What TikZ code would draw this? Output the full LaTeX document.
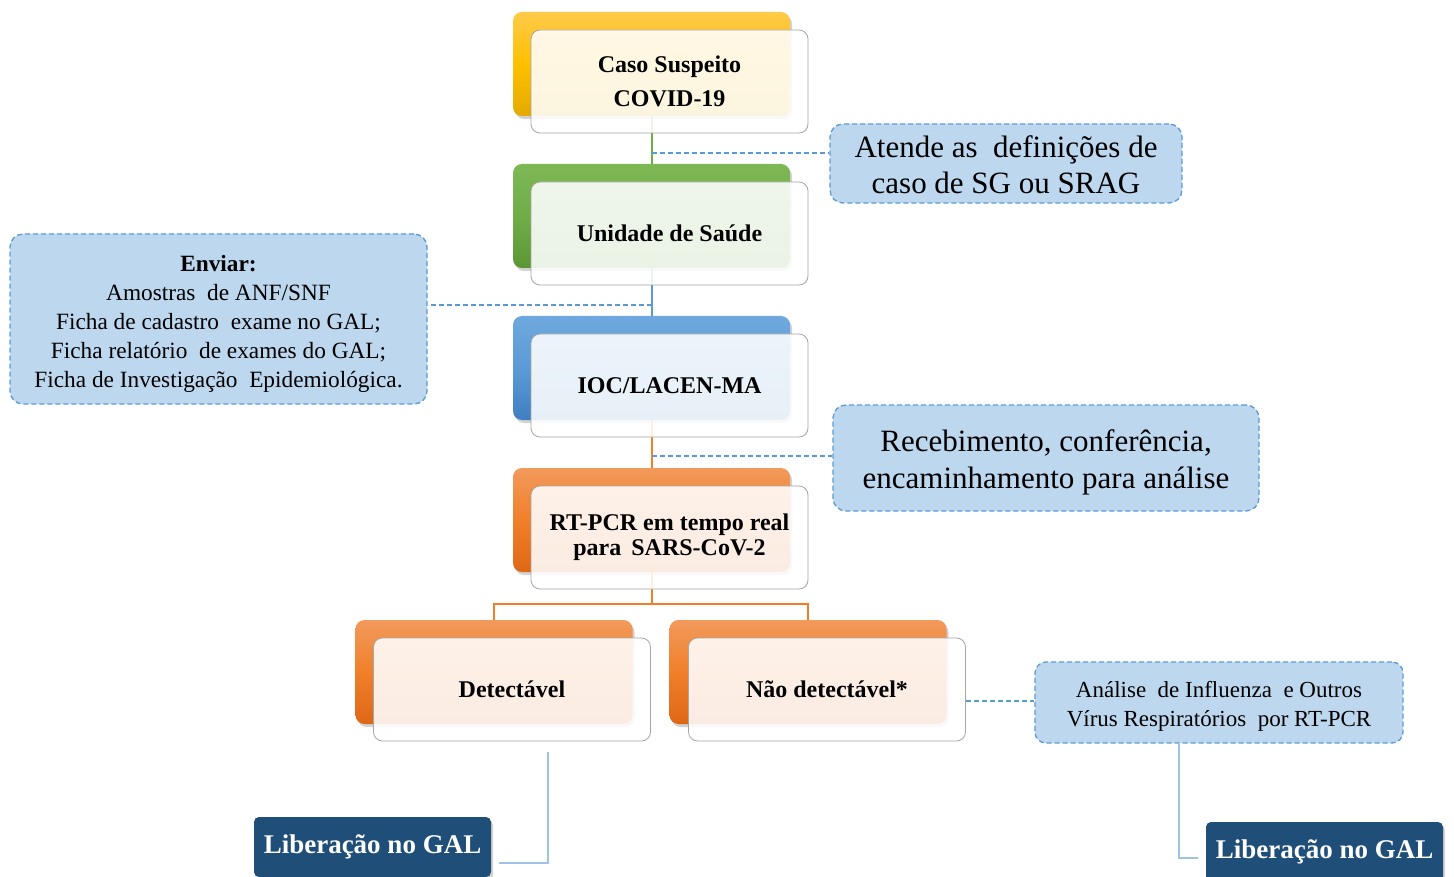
\documentclass[tikz,border=0pt]{standalone}
\usepackage{fontspec}
\setmainfont{Liberation Serif}
\usetikzlibrary{shadows}
\definecolor{yA}{HTML}{FFCA4A}\definecolor{yB}{HTML}{FFC000}\definecolor{yC}{HTML}{E3AA00}
\definecolor{gA}{HTML}{7DB855}\definecolor{gB}{HTML}{70AD47}\definecolor{gC}{HTML}{5C9634}
\definecolor{bA}{HTML}{6FA8DE}\definecolor{bB}{HTML}{5B9BD5}\definecolor{bC}{HTML}{3F7FC2}
\definecolor{oA}{HTML}{F29A5C}\definecolor{oB}{HTML}{F07F2A}\definecolor{oC}{HTML}{DE6716}
\definecolor{callfill}{HTML}{BDD7EE}\definecolor{calldraw}{HTML}{5B9BD5}
\definecolor{darkblue}{HTML}{1F4E79}\definecolor{linkblue}{HTML}{9DC3E6}
\definecolor{frame}{HTML}{A6A6A6}
\newcommand\shiftdown[2]{\raisebox{-#1}[\height][\depth]{\begin{tabular}{@{}c@{}}#2\end{tabular}}}
\tikzset{
  backbox/.style={rounded corners=9pt, minimum width=277pt, minimum height=104pt, inner sep=0pt,
    drop shadow={opacity=0.35, shadow xshift=2pt, shadow yshift=-3pt}},
  frontbox/.style={rounded corners=9pt, minimum width=277pt, minimum height=103pt, inner sep=0pt,
    draw=frame, line width=0.8pt, fill=white, fill opacity=0.88, text opacity=1, align=center,
    font=\fontsize{24}{34}\selectfont\bfseries},
  callout/.style={rounded corners=13pt, fill=callfill, draw=calldraw, dash pattern=on 5pt off 3pt, line width=1.3pt,
    inner sep=0pt},
  dashlink/.style={draw=calldraw, dash pattern=on 5pt off 3pt, line width=1.3pt},
  solidlink/.style={draw=linkblue, line width=1.3pt},
  treelink/.style={line width=2pt},
  gallbox/.style={rounded corners=5pt, fill=darkblue, text=white, minimum width=237pt, minimum height=60pt,
    inner sep=0pt, font=\fontsize{27}{30}\selectfont\bfseries,
    drop shadow={opacity=0.35, shadow xshift=2pt, shadow yshift=-3pt}},
}
\begin{document}
\begin{tikzpicture}[x=1pt,y=-1pt]
\clip (0,0) rectangle (1454,877);
\fill[white] (0,0) rectangle (1454,877);
\node[backbox, top color=yA, bottom color=yC, middle color=yB] (c1b) at (651.5,64) {};
\node[backbox, top color=gA, bottom color=gC, middle color=gB] (c2b) at (651.5,216) {};
\node[backbox, top color=bA, bottom color=bC, middle color=bB] (c3b) at (651.5,368) {};
\node[backbox, top color=oA, bottom color=oC, middle color=oB] (c4b) at (651.5,520) {};
\node[backbox, top color=oA, bottom color=oC, middle color=oB] (c5b) at (494,672) {};
\node[backbox, top color=oA, bottom color=oC, middle color=oB] (c6b) at (808,672) {};
\draw[treelink, gB] (c1b.south) -- (c2b.north);
\draw[treelink, bB] (c2b.south) -- (c3b.north);
\draw[treelink, oB] (c3b.south) -- (c4b.north);
\coordinate (fork) at (651.5,604);
\draw[treelink, oB] (c4b.south) -- (fork) -| (c5b.north);
\draw[treelink, oB] (fork) -| (c6b.north);
% front boxes
\node[frontbox] (c1) at (669.5,81.5) {Caso Suspeito\\COVID-19};
\node[frontbox] (c2) at (669.5,233.5) {Unidade de Saúde};
\node[frontbox] (c3) at (669.5,385.5) {IOC/LACEN-MA};
\node[frontbox, font=\fontsize{24}{25}\selectfont\bfseries] (c4) at (669.5,537.5) {RT-PCR em tempo real\\para \,SARS-CoV-2};
\node[frontbox] (c5) at (512,689.5) {Detectável};
\node[frontbox] (c6) at (827,689.5) {Não detectável*};
% callouts
\node[callout, minimum width=352pt, minimum height=79pt, font=\fontsize{31}{36}\selectfont] (a1) at (1006,163.5) {\shiftdown{5pt}{Atende as \ definições de\\caso de SG ou SRAG}};
\node[callout, minimum width=417pt, minimum height=170pt, font=\fontsize{23.3}{29}\selectfont] (a2) at (218.5,319) {\shiftdown{4.5pt}{\textbf{Enviar:}\\Amostras \ de ANF/SNF\\Ficha de cadastro \ exame no GAL;\\Ficha relatório \ de exames do GAL;\\Ficha de Investigação \ Epidemiológica.}};
\node[callout, minimum width=426pt, minimum height=106pt, font=\fontsize{31}{37}\selectfont] (a3) at (1046,458) {\shiftdown{5pt}{Recebimento, conferência,\\encaminhamento para análise}};
\node[callout, minimum width=368pt, minimum height=81pt, rounded corners=11pt, font=\fontsize{23}{29}\selectfont] (a4) at (1219,702.5) {\shiftdown{3.5pt}{Análise \ de Influenza \ e Outros\\Vírus Respiratórios \ por RT-PCR}};
\coordinate (d1) at (651.5,153);
\coordinate (d2) at (651.5,305);
\coordinate (d3) at (651.5,456);
\coordinate (d4) at (966,701);
\draw[dashlink] (d1) -- (d1 -| a1.west);
\draw[dashlink] (d2) -- (d2 -| a2.east);
\draw[dashlink] (d3) -- (d3 -| a3.west);
\draw[dashlink] (d4) -- (d4 -| a4.west);
% release boxes
\node[gallbox] (g1) at (372.5,847) {Liberação no GAL};
\node[gallbox] (g2) at (1324.5,852) {Liberação no GAL};
\coordinate (l1) at (548,752);
\coordinate (l2) at (499,863);
\coordinate (r2) at (1198,858);
\draw[solidlink] (l1) |- (l2);
\draw[solidlink] (a4.south -| 1179,0) |- (r2);
\end{tikzpicture}
\end{document}
